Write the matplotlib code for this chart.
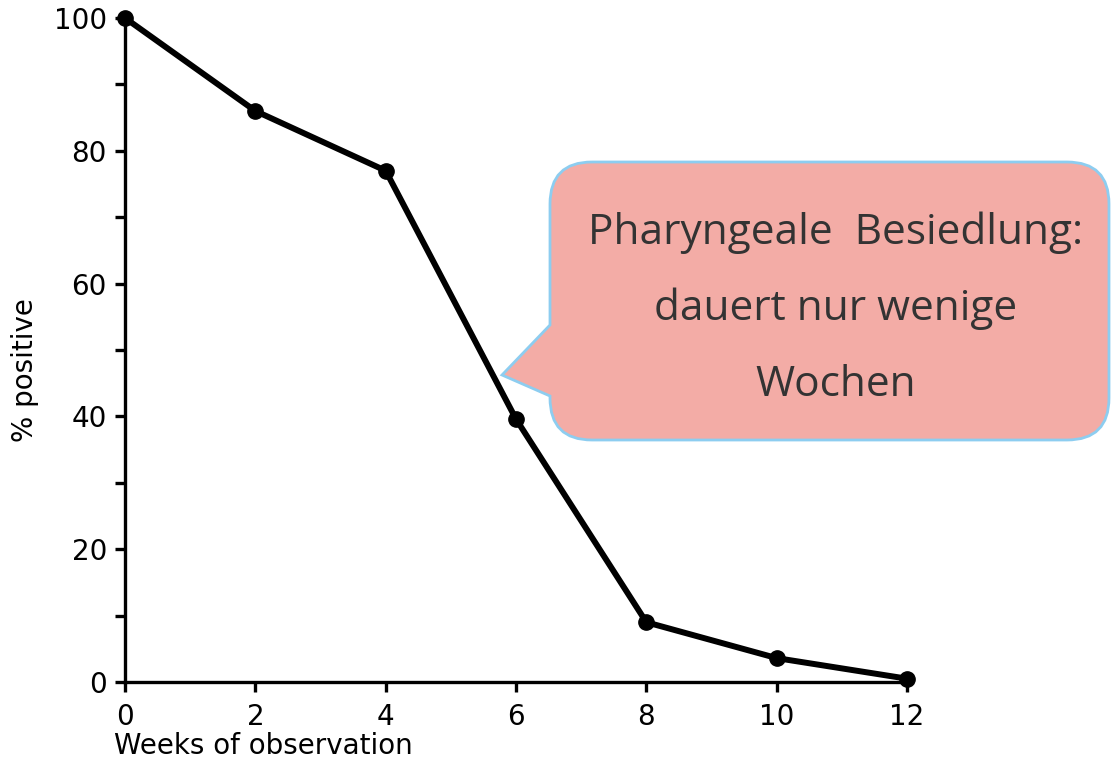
import numpy as np
import matplotlib
matplotlib.use("Agg")
import matplotlib.pyplot as plt
from matplotlib.path import Path
from matplotlib.patches import PathPatch

# data
weeks = [0, 2, 4, 6, 8, 10, 12]
pct_positive = [100, 86, 77, 39.6, 9, 3.6, 0.5]
x_ticks = [0, 2, 4, 6, 8, 10, 12]
y_major = [0, 20, 40, 60, 80, 100]
y_minor = [10, 30, 50, 70, 90]
callout_lines = ["Pharyngeale  Besiedlung:", "dauert nur wenige", "Wochen"]

W, H = 1111, 760
fig = plt.figure(figsize=(W / 100, H / 100), dpi=100)
ax = fig.add_axes([125 / W, 78 / H, (907 - 125) / W, (682 - 18) / H])

ax.plot(weeks, pct_positive, color="black", lw=4.3, marker="o", ms=11,
        solid_joinstyle="round", clip_on=False, zorder=5)

ax.set_xlim(0, 12)
ax.set_ylim(0, 100)
for s in ["top", "right"]:
    ax.spines[s].set_visible(False)
for s in ["left", "bottom"]:
    ax.spines[s].set_linewidth(2.4)

ax.set_xticks(x_ticks)
ax.set_yticks(y_major)
ax.set_yticks(y_minor, minor=True)
ax.tick_params(axis="both", which="both", direction="out", width=2.4,
               length=7, labelsize=20, colors="black")
ax.tick_params(axis="x", pad=8)
ax.tick_params(axis="y", pad=6)

ax.set_xlabel("Weeks of observation", fontsize=20, ha="left")
ax.xaxis.set_label_coords(-0.014, -0.075)
ax.set_ylabel("% positive", fontsize=20)
ax.yaxis.set_label_coords(-0.11, 0.47)

# speech bubble in figure pixels (y measured from top, flipped here)
def P(x, y):
    return (x, H - y)

x0, x1, y0, y1, r = 550, 1109, 162, 440, 42
verts = [
    P(x0 + r, y0), P(x1 - r, y0), P(x1, y0), P(x1, y0 + r),
    P(x1, y1 - r), P(x1, y1), P(x1 - r, y1),
    P(x0 + r, y1), P(x0, y1), P(x0, y1 - r),
    P(x0, 396), P(502, 375), P(x0, 325),
    P(x0, y0 + r), P(x0, y0), P(x0 + r, y0),
]
codes = [Path.MOVETO, Path.LINETO, Path.CURVE3, Path.CURVE3,
         Path.LINETO, Path.CURVE3, Path.CURVE3,
         Path.LINETO, Path.CURVE3, Path.CURVE3,
         Path.LINETO, Path.LINETO, Path.LINETO,
         Path.LINETO, Path.CURVE3, Path.CURVE3]
bubble = PathPatch(Path(verts, codes), transform=None, facecolor="#F3ACA6",
                   edgecolor="#8DCDF0", lw=2, zorder=10)
fig.patches.append(bubble)

for i, line in enumerate(callout_lines):
    fig.text(836 / W, 1 - (233 + 76 * i) / H, line, ha="center", va="center",
             fontsize=30.5, family="Open Sans", color="#333333", zorder=11)

fig.savefig("out.png", dpi=100)
